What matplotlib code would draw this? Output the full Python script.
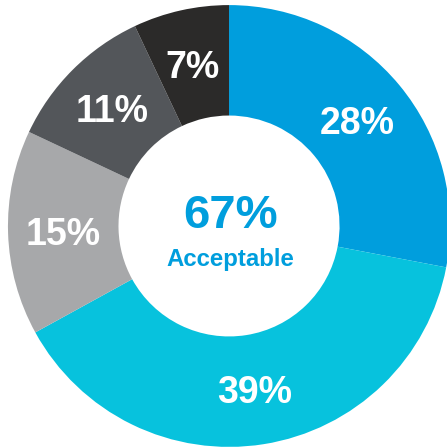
import matplotlib.pyplot as plt

# Share of responses per rating, clockwise from the top
labels = ['28%', '39%', '15%', '11%', '7%']
shares = [28, 39, 15, 11, 7]
colors = ['#009EDD', '#07C2DD', '#A7A8AA', '#53565A', '#2B2A29']
total_text = '67%'
total_label = 'Acceptable'

plt.rcParams['font.family'] = ['Liberation Sans', 'DejaVu Sans']

fig = plt.figure(figsize=(4.47, 4.48), dpi=100)
ax = fig.add_axes([0, 0, 1, 1])

wedges, texts = ax.pie(shares, labels=labels, colors=colors, startangle=90,
                       counterclock=False, radius=1.0, labeldistance=0.75,
                       wedgeprops=dict(width=0.5, linewidth=0),
                       textprops=dict(color='white', fontsize=27, fontweight='bold',
                                      ha='center', va='center'))
# nudge the percentage labels down a touch
for t in texts:
    x, y = t.get_position()
    t.set_position((x, y - 0.015))

# Centre text
ax.text(0.005, 0.045, total_text, color='#009EDD', fontsize=34, fontweight='bold',
        ha='center', va='center')
ax.text(0.005, -0.15, total_label, color='#009EDD', fontsize=17.3, fontweight='bold',
        ha='center', va='center')

# Circle sits slightly left of centre and runs off the right/bottom edges
ax.set_xlim(-1.036, 0.986)
ax.set_ylim(-1.005, 1.023)
ax.set_aspect('auto')
ax.axis('off')

fig.savefig('out.png', dpi=100)
